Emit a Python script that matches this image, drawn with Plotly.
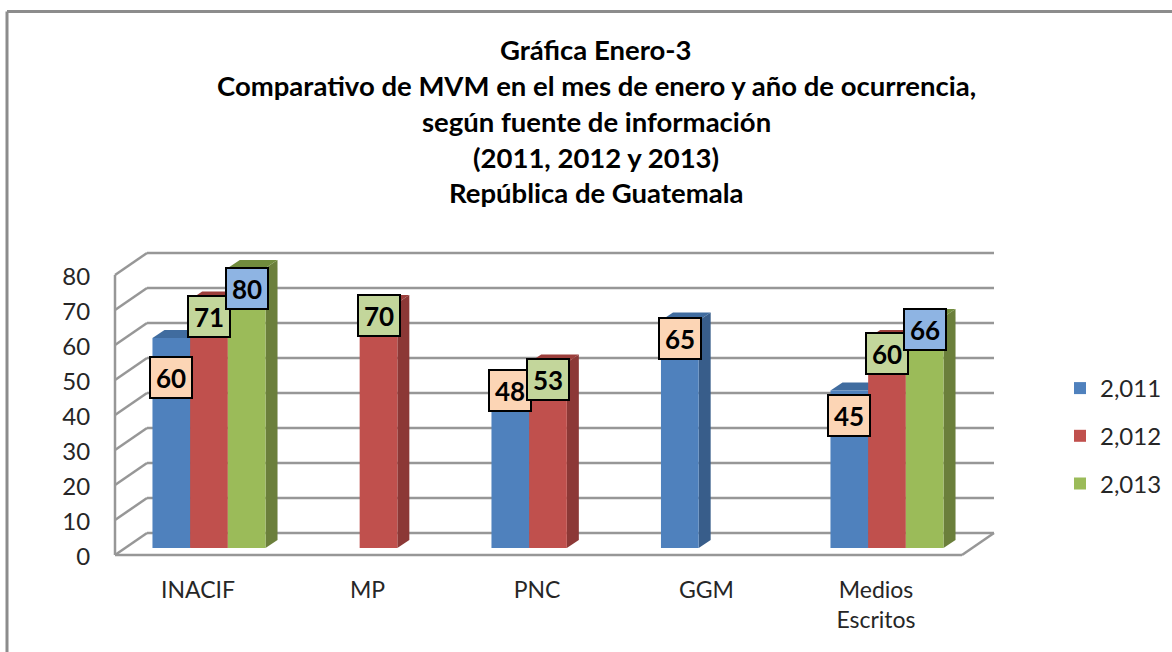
import plotly.graph_objects as go

# ---------- data ----------
CATEGORIES = ["INACIF", "MP", "PNC", "GGM", "Medios<br>Escritos"]
SERIES_NAMES = ["2,011", "2,012", "2,013"]
VALUES_2011 = [60, None, 48, 65, 45]
VALUES_2012 = [71, 70, 53, None, 60]
VALUES_2013 = [80, None, None, None, 66]
Y_TICKS = [0, 10, 20, 30, 40, 50, 60, 70, 80]
TITLE_LINES = [
    "Gráfica Enero-3",
    "Comparativo de MVM en el mes de enero y año de ocurrencia,",
    "según fuente de información",
    "(2011, 2012 y 2013)",
    "República de Guatemala",
]

# ---------- styling ----------
W, H = 1172, 652
FONT = "Lato"
FRONT = ["#4F81BD", "#C0504D", "#9BBB59"]
SIDE = ["#385D8A", "#8C3836", "#6B7F3B"]
TOP = ["#406C9F", "#9C3E3B", "#718C3D"]
LABEL_BG = ["#FCD5B5", "#C3D69B", "#8EB4E3"]
GRID = "#979797"
TEXT = "#262626"

# geometry (pixels)
DOM_L, DOM_R, DOM_T, DOM_B = 105, 1010, 238, 565
PX_CAT = 169.5
PX_UNIT = 3.5
CAT0_LABEL = 198      # px of first category label
CAT0_BAR = 209        # px of first bar group centre
Y0_FRONT = 555        # px of value 0 on the front edge of the floor
Y0_TICK = 557         # px of value 0 on the tick-label axis
Y0_BAR = 548          # px of value 0 on the bar plane
WALL_DX, WALL_DY = 32, 22
BAR_DX, BAR_DY = 12, 8
BAR_GAP = 0.333


def xrange_for(px0):
    return [(DOM_L - px0) / PX_CAT, (DOM_R - px0) / PX_CAT]


def yrange_for(px0):
    return [(px0 - DOM_B) / PX_UNIT, (px0 - DOM_T) / PX_UNIT]


fig = go.Figure()
all_values = [VALUES_2011, VALUES_2012, VALUES_2013]
xs = list(range(len(CATEGORIES)))
for i, (name, vals) in enumerate(zip(SERIES_NAMES, all_values)):
    fig.add_trace(go.Bar(
        x=xs, y=vals, name=name, xaxis="x2", yaxis="y2",
        marker=dict(color=FRONT[i], line=dict(width=0)),
        legendgroup=name, hoverinfo="skip",
    ))

# an invisible trace keeps the front axes alive
fig.add_trace(go.Scatter(x=[0], y=[0], mode="markers", marker=dict(opacity=0),
                         showlegend=False, hoverinfo="skip"))

shapes = []
dxw = WALL_DX / PX_CAT
dyw = WALL_DY / PX_UNIT
x_front_l = (115 - CAT0_LABEL) / PX_CAT
x_front_r = (962 - CAT0_LABEL) / PX_CAT
y_off = (Y0_TICK - Y0_FRONT) / PX_UNIT
line = dict(color=GRID, width=2.5)


def grid_line(x0, y0, x1, y1):
    shapes.append(dict(type="line", xref="x", yref="y", layer="below", line=line,
                       x0=x0, y0=y0 + y_off, x1=x1, y1=y1 + y_off))


for t in Y_TICKS:
    grid_line(x_front_l, t, x_front_l + dxw, t + dyw)
    grid_line(x_front_l + dxw, t + dyw, x_front_r + dxw, t + dyw)
grid_line(x_front_l, 0, x_front_l, Y_TICKS[-1])
grid_line(x_front_l, 0, x_front_r, 0)
grid_line(x_front_r, 0, x_front_r + dxw, dyw)

# depth faces of the bars, derived from the values
bw = (1 - BAR_GAP) / 3
dxb = BAR_DX / PX_CAT
dyb = BAR_DY / PX_UNIT
for i, vals in enumerate(all_values):
    for cat, v in zip(xs, vals):
        if v is None:
            continue
        xl = cat + (i - 1.5) * bw
        xr = xl + bw
        shapes.append(dict(
            type="path", xref="x2", yref="y2", layer="below", line=dict(width=0),
            fillcolor=SIDE[i],
            path=f"M{xr},0 L{xr},{v} L{xr + dxb},{v + dyb} L{xr + dxb},{dyb} Z"))
        shapes.append(dict(
            type="path", xref="x2", yref="y2", layer="below", line=dict(width=0),
            fillcolor=TOP[i],
            path=f"M{xl},{v} L{xr},{v} L{xr + dxb},{v + dyb} L{xl + dxb},{v + dyb} Z"))

# outer frame (top and left only are visible)
frame = dict(color="#8C8C8C", width=3)
shapes.append(dict(type="line", xref="paper", yref="paper", line=frame,
                   x0=7 / W, y0=1 - 11.5 / H, x1=1, y1=1 - 11.5 / H))
shapes.append(dict(type="line", xref="paper", yref="paper", line=frame,
                   x0=7 / W, y0=1 - 11.5 / H, x1=7 / W, y1=0))

# title lines
annotations = []
TITLE_Y = [49, 85, 121, 157, 193]
for txt, py in zip(TITLE_LINES, TITLE_Y):
    annotations.append(dict(
        xref="paper", yref="paper", x=596 / W, y=1 - py / H, text=f"<b>{txt}</b>",
        showarrow=False, xanchor="center", yanchor="middle",
        font=dict(family=FONT, size=27.5, color="black")))

# data-label boxes: (series, category) -> pixel drop below the bar top
LABEL_DROP = {
    (0, 0): 39, (1, 0): 17, (2, 0): 20,
    (1, 1): 12,
    (0, 2): 10, (1, 2): 17,
    (0, 3): 18,
    (0, 4): 25, (1, 4): 15, (2, 4): 12,
}
# the box fill follows the series position in the original chart
for (i, cat), drop in LABEL_DROP.items():
    v = all_values[i][cat]
    annotations.append(dict(
        xref="x2", yref="y2", x=cat + (i - 1) * bw, y=v, yshift=-drop,
        text=f"<b>{v}</b>", showarrow=False, xanchor="center", yanchor="middle",
        width=38, height=37, borderpad=1, borderwidth=2, bordercolor="black",
        bgcolor=LABEL_BG[i],
        font=dict(family=FONT, size=26, color="black")))

dom_x = [DOM_L / W, DOM_R / W]
dom_y = [1 - DOM_B / H, 1 - DOM_T / H]
fig.update_layout(
    width=W, height=H, margin=dict(l=0, r=0, t=0, b=0, autoexpand=False),
    paper_bgcolor="white", plot_bgcolor="rgba(0,0,0,0)",
    barmode="group", bargap=BAR_GAP, bargroupgap=0,
    font=dict(family=FONT, color=TEXT, size=23),
    shapes=shapes, annotations=annotations,
    legend=dict(x=1060 / W, y=1 - 366 / H, xanchor="left", yanchor="top",
                font=dict(family=FONT, size=24, color=TEXT),
                tracegroupgap=13.5, bgcolor="rgba(0,0,0,0)", traceorder="grouped"),
    xaxis=dict(domain=dom_x, range=xrange_for(CAT0_LABEL), tickmode="array", tickvals=xs,
               ticktext=CATEGORIES, showgrid=False, zeroline=False, showline=False,
               anchor="y", side="bottom", ticks="outside", ticklen=4, tickcolor="rgba(0,0,0,0)",
               tickfont=dict(family=FONT, size=23, color=TEXT)),
    yaxis=dict(domain=dom_y, range=yrange_for(Y0_TICK), tickmode="array", tickvals=Y_TICKS,
               showgrid=False, zeroline=False, showline=False, anchor="x",
               ticks="outside", ticklen=9, tickcolor="rgba(0,0,0,0)",
               tickfont=dict(family=FONT, size=24, color=TEXT)),
    xaxis2=dict(domain=dom_x, range=xrange_for(CAT0_BAR), overlaying="x", anchor="y2", visible=False),
    yaxis2=dict(domain=dom_y, range=yrange_for(Y0_BAR), overlaying="y", anchor="x2", visible=False),
)

fig.write_html("out.html", config={"displayModeBar": False},
               post_script="document.body.style.margin='0';document.body.style.overflow='hidden';")
